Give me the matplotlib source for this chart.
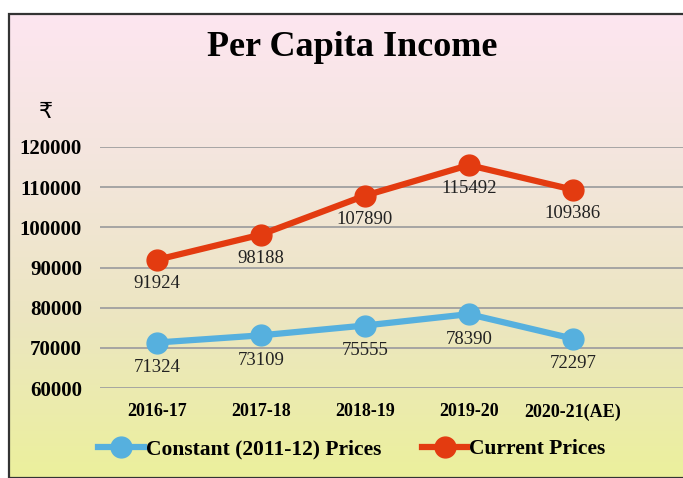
import numpy as np
import matplotlib
matplotlib.use("Agg")
import matplotlib.pyplot as plt
from matplotlib.colors import LinearSegmentedColormap
from matplotlib.patches import Rectangle

years = ["2016-17", "2017-18", "2018-19", "2019-20", "2020-21(AE)"]
constant_prices = [71324, 73109, 75555, 78390, 72297]
current_prices = [91924, 98188, 107890, 115492, 109386]
y_ticks = [60000, 70000, 80000, 90000, 100000, 110000, 120000]

blue = "#56B0DE"
red = "#E33B10"
serif = ["Liberation Serif", "DejaVu Serif"]

plt.rcParams["font.family"] = serif

W, H = 683, 478
fig = plt.figure(figsize=(W / 100, H / 100), dpi=100)
fig.patch.set_facecolor("white")

# background gradient inside the frame
bg = fig.add_axes([9 / W, 0, 1 - 9 / W, 1 - 14 / H])
bg.set_axis_off()
grad = LinearSegmentedColormap.from_list(
    "bg", ["#FDE6F0", "#F3E5DC", "#ECE6C0", "#EBF09C"])
bg.imshow(np.linspace(0, 1, 256).reshape(-1, 1), aspect="auto", cmap=grad,
          extent=[0, 1, 0, 1])
bg.set_xlim(0, 1)
bg.set_ylim(0, 1)
bg.add_patch(Rectangle((0, 0), 1.2, 1, transform=bg.transAxes, fill=False,
                       edgecolor="#333333", linewidth=1.6, clip_on=False))

# plot area
ax = fig.add_axes([100 / W, 90 / H, 583 / W, 241 / H])
ax.set_facecolor("none")
x = np.arange(len(years))

ax.plot(x, constant_prices, color=blue, lw=4.5, marker="o", ms=15,
        label="Constant (2011-12) Prices", zorder=3)
ax.plot(x, current_prices, color=red, lw=4.5, marker="o", ms=15,
        label="Current Prices", zorder=3)

for xi, v in zip(x, constant_prices):
    ax.annotate(str(v), (xi, v), xytext=(0, -12), textcoords="offset points",
                ha="center", va="top", fontsize=13.5, color="#222222")
for xi, v in zip(x, current_prices):
    ax.annotate(str(v), (xi, v), xytext=(0, -11), textcoords="offset points",
                ha="center", va="top", fontsize=13.5, color="#222222")

ax.set_xlim(-0.548, 5.06)
ax.set_ylim(60000, 120000)
ax.set_yticks(y_ticks)
ax.set_yticklabels([str(t) for t in y_ticks], fontsize=15, fontweight="bold")
ax.set_xticks(x)
ax.set_xticklabels(years, fontsize=13, fontweight="bold")
ax.tick_params(length=0)
ax.tick_params(axis="y", pad=13)
ax.tick_params(axis="x", pad=11)
ax.grid(axis="y", color="#A0A0A0", lw=1.3)
ax.set_axisbelow(True)
for s in ax.spines.values():
    s.set_visible(False)

fig.text(352 / W, 1 - 48 / H, "Per Capita Income", ha="center", va="center",
         fontsize=26, fontweight="bold")
fig.text(46 / W, 1 - 112 / H, "\u20b9", ha="center", va="center",
         fontsize=16, family=["DejaVu Sans"])

fig.legend(loc="center", bbox_to_anchor=(352 / W, 1 - 449 / H), ncol=2,
           frameon=False, prop={"size": 15.5, "weight": "bold"},
           handlelength=2.1, handletextpad=0.1, columnspacing=1.9,
           markerscale=1.0)

fig.savefig("out.png", dpi=100)
